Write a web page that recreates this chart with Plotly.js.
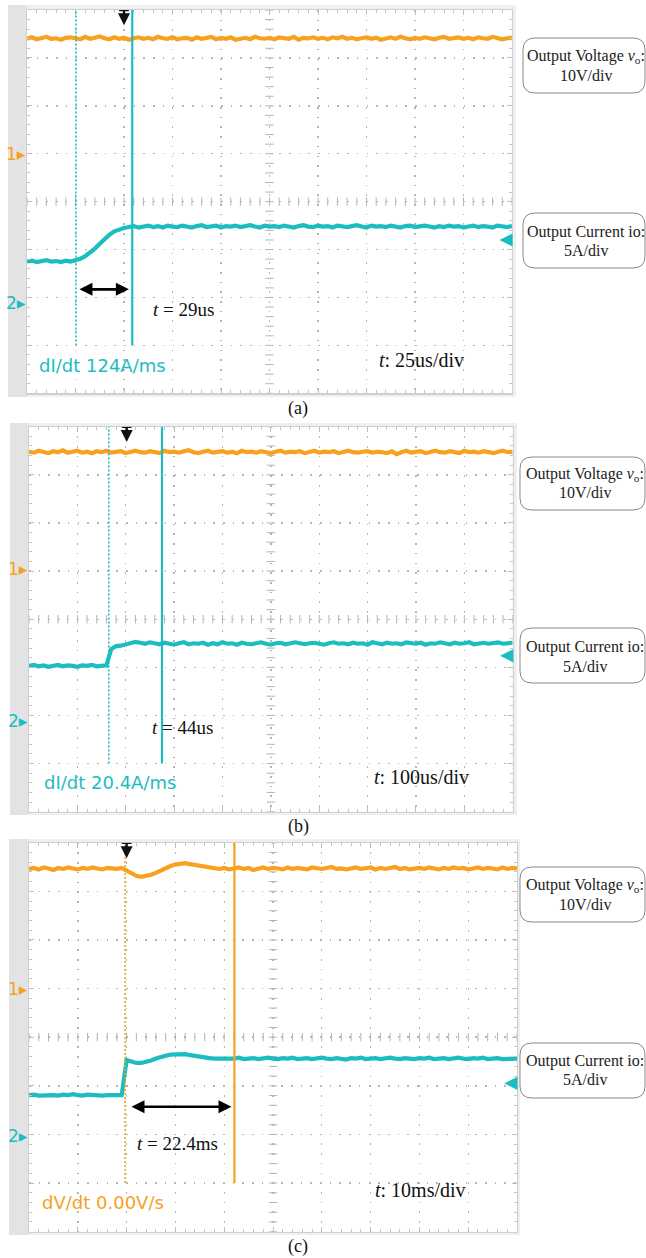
<!DOCTYPE html>
<html><head><meta charset="utf-8">
<script src="https://cdn.plot.ly/plotly-3.0.1.min.js"></script>
<style>html,body{margin:0;padding:0;background:#fff}#chart{width:646px;height:1258px}</style>
</head><body><div id="chart"></div>
<script>
// ===== DATA (oscilloscope divisions: time 0..10 div, amplitude -4..4 div) =====
const sampleStep = 0.1; // div between samples

// (a) 25us/div
const voltA = [3.40,3.43,3.39,3.42,3.44,3.40,3.41,3.38,3.42,3.43,
3.41,3.39,3.44,3.40,3.42,3.45,3.41,3.39,3.43,3.40,
3.42,3.38,3.41,3.43,3.40,3.42,3.39,3.44,3.41,3.40,
3.43,3.39,3.41,3.42,3.38,3.43,3.40,3.41,3.44,3.39,
3.42,3.40,3.43,3.38,3.41,3.42,3.39,3.44,3.41,3.40,
3.42,3.39,3.43,3.41,3.40,3.44,3.38,3.42,3.41,3.43,
3.40,3.42,3.39,3.43,3.41,3.44,3.40,3.42,3.39,3.41,
3.43,3.40,3.42,3.38,3.41,3.43,3.40,3.44,3.41,3.39,
3.42,3.40,3.43,3.41,3.39,3.42,3.44,3.40,3.41,3.43,
3.40,3.42,3.39,3.43,3.41,3.40,3.44,3.42,3.39,3.41,3.42];
const currA = [-1.25,-1.23,-1.26,-1.24,-1.22,-1.25,-1.24,-1.26,-1.23,-1.25,-1.23,
-1.19,-1.14,-1.07,-0.98,-0.88,-0.78,-0.69,-0.62,-0.58,-0.55,-0.53,
-0.51,-0.54,-0.52,-0.50,-0.53,-0.51,-0.54,-0.50,-0.52,-0.53,
-0.50,-0.52,-0.54,-0.51,-0.49,-0.53,-0.52,-0.50,-0.54,-0.51,
-0.52,-0.50,-0.53,-0.51,-0.49,-0.52,-0.54,-0.50,-0.52,-0.51,
-0.53,-0.50,-0.52,-0.54,-0.51,-0.49,-0.52,-0.53,-0.50,-0.52,
-0.51,-0.54,-0.50,-0.52,-0.53,-0.51,-0.49,-0.52,-0.54,-0.50,
-0.52,-0.51,-0.53,-0.50,-0.52,-0.54,-0.51,-0.50,-0.53,-0.52,
-0.50,-0.52,-0.54,-0.51,-0.53,-0.50,-0.52,-0.51,-0.54,-0.52,
-0.50,-0.53,-0.51,-0.52,-0.54,-0.50,-0.52,-0.53,-0.51];

// (b) 100us/div
const voltB = [3.48,3.46,3.50,3.47,3.45,3.49,3.47,3.51,3.46,3.48,
3.50,3.46,3.48,3.45,3.49,3.47,3.50,3.46,3.48,3.49,
3.45,3.48,3.50,3.47,3.46,3.49,3.48,3.45,3.50,3.47,
3.48,3.46,3.49,3.51,3.47,3.45,3.48,3.50,3.46,3.48,
3.49,3.46,3.48,3.45,3.50,3.47,3.48,3.46,3.49,3.47,
3.45,3.48,3.50,3.46,3.48,3.47,3.49,3.45,3.48,3.50,
3.46,3.48,3.47,3.49,3.45,3.48,3.50,3.47,3.46,3.48,
3.49,3.46,3.48,3.47,3.45,3.49,3.43,3.47,3.50,3.46,
3.48,3.49,3.45,3.48,3.50,3.47,3.46,3.49,3.48,3.45,
3.50,3.47,3.48,3.46,3.49,3.47,3.45,3.48,3.50,3.47,3.48];
const currB = [-0.97,-0.95,-0.98,-0.96,-0.99,-0.97,-0.95,-0.98,-0.96,-0.97,
-0.99,-0.96,-0.97,-0.95,-0.98,-0.97,-0.96,
-0.62,-0.56,-0.55,-0.52,-0.49,-0.47,-0.49,-0.51,-0.48,-0.50,
-0.52,-0.49,-0.51,-0.53,-0.50,-0.48,-0.52,-0.50,-0.51,-0.49,
-0.53,-0.50,-0.52,-0.48,-0.51,-0.50,-0.53,-0.49,-0.51,-0.52,
-0.50,-0.48,-0.51,-0.53,-0.50,-0.49,-0.52,-0.51,-0.48,-0.50,
-0.52,-0.50,-0.49,-0.51,-0.53,-0.50,-0.48,-0.51,-0.50,-0.52,
-0.49,-0.51,-0.50,-0.53,-0.48,-0.50,-0.52,-0.49,-0.51,-0.50,
-0.52,-0.48,-0.50,-0.51,-0.49,-0.53,-0.50,-0.51,-0.48,-0.50,
-0.52,-0.49,-0.51,-0.50,-0.48,-0.52,-0.50,-0.49,-0.51,-0.50,
-0.48,-0.51,-0.50,-0.49];

// (c) 10ms/div
const voltC = [3.46,3.48,3.45,3.49,3.47,3.44,3.48,3.46,3.49,3.47,
3.45,3.48,3.46,3.49,3.47,3.45,3.48,3.47,3.46,3.48,
3.42,3.36,3.32,3.30,3.31,3.34,3.38,3.43,3.48,3.52,
3.55,3.57,3.58,3.56,3.54,3.52,3.50,3.48,3.47,3.46,
3.48,3.45,3.47,3.49,3.46,3.48,3.44,3.47,3.49,3.46,
3.48,3.47,3.45,3.49,3.46,3.48,3.47,3.45,3.49,3.47,
3.46,3.48,3.50,3.46,3.47,3.45,3.48,3.49,3.46,3.47,
3.49,3.45,3.48,3.46,3.47,3.50,3.46,3.48,3.45,3.47,
3.48,3.46,3.49,3.47,3.45,3.48,3.46,3.49,3.47,3.48,
3.45,3.47,3.49,3.46,3.48,3.47,3.45,3.49,3.46,3.48,3.47];
const currC = [-1.19,-1.18,-1.20,-1.19,-1.18,-1.19,-1.20,-1.18,-1.19,-1.17,
-1.19,-1.20,-1.18,-1.19,-1.18,-1.20,-1.19,-1.18,-1.19,-1.19,
-0.47,-0.50,-0.53,-0.53,-0.51,-0.48,-0.44,-0.40,-0.38,-0.36,
-0.35,-0.34,-0.35,-0.37,-0.39,-0.41,-0.42,-0.43,-0.44,-0.44,
-0.43,-0.45,-0.44,-0.42,-0.45,-0.44,-0.43,-0.45,-0.44,-0.42,
-0.44,-0.45,-0.43,-0.44,-0.42,-0.45,-0.44,-0.43,-0.45,-0.44,
-0.42,-0.44,-0.45,-0.43,-0.44,-0.46,-0.43,-0.44,-0.42,-0.45,
-0.44,-0.43,-0.45,-0.44,-0.42,-0.44,-0.45,-0.43,-0.44,-0.45,
-0.43,-0.44,-0.42,-0.45,-0.44,-0.43,-0.45,-0.44,-0.42,-0.44,
-0.45,-0.43,-0.44,-0.42,-0.45,-0.44,-0.43,-0.45,-0.44,-0.43,-0.44];

// cursors (div): [dotted, solid]
const cursorsA = [1.01, 2.17];
const cursorsB = [1.65, 2.75];
const cursorsC = [1.97, 4.21];
const triggerPos = [2.0, 2.02, 2.0];

// measured interval arrows [from, to] (div)
const spanA = [1.05, 2.10];
const spanC = [2.07, 4.15];

const measureText = ['<i>t</i> = 29us', '<i>t</i> = 44us', '<i>t</i> = 22.4ms'];
const slopeText = ['dI/dt 124A/ms', 'dI/dt 20.4A/ms', 'dV/dt 0.00V/s'];
const timebaseText = ['<i>t</i>: 25us/div', '<i>t</i>: 100us/div', '<i>t</i>: 10ms/div'];
const captions = ['(a)', '(b)', '(c)'];
const voltLabel = ['Output Voltage <i>v</i><sub>o</sub>:', '10V/div'];
const currLabel = ['Output Current io:', '5A/div'];

// ===== LAYOUT / STYLE =====
const W = 646, H = 1258;
const ORANGE = '#F7A11E', CYAN = '#1CBDBF';
const px = v => v / W, py = v => 1 - v / H;

const panels = [
  {volt: voltA, curr: currA, cur: cursorsA, curColor: CYAN, span: spanA, spanY: -1.83,
   gx: [27, 512], gy: [10, 393.3], outer: [8, 5, 516, 397],
   mT: [3.22, -2.26], sT: [0.21, -3.41], tT: [8.13, -3.31], cap: [298, 408],
   vbox: [523, 38, 645, 93], vt: [56.7, 75.5], ibox: [523, 213, 645, 268], it: [231.7, 250.5],
   rArrow: -0.80, m1: 1.0, m2: -2.12},
  {volt: voltB, curr: currB, cur: cursorsB, curColor: CYAN, span: null,
   gx: [29, 512.7], gy: [426.7, 811.7], outer: [10, 423, 517, 815],
   mT: [3.17, -2.25], sT: [0.26, -3.40], tT: [8.12, -3.28], cap: [298, 826],
   vbox: [520, 457, 645, 510], vt: [474, 492.5], ibox: [520, 628, 645, 683], it: [647.5, 666.5],
   rArrow: -0.76, m1: 1.05, m2: -2.12},
  {volt: voltC, curr: currC, cur: cursorsC, curColor: ORANGE, span: spanC, spanY: -1.43,
   gx: [29, 517], gy: [842.7, 1231.7], outer: [9, 839, 520, 1235],
   mT: [3.04, -2.18], sT: [0.23, -3.39], tT: [8.02, -3.15], cap: [298, 1246],
   vbox: [520, 867, 645, 922], vt: [885.5, 904.5], ibox: [520, 1043, 645, 1098], it: [1060.5, 1079.5],
   rArrow: -0.95, m1: 1.0, m2: -2.04}
];

function rr(x0, y0, x1, y1, r) {
  const X = px, Y = py;
  return `M${X(x0 + r)},${Y(y0)} L${X(x1 - r)},${Y(y0)} Q${X(x1)},${Y(y0)} ${X(x1)},${Y(y0 + r)} ` +
    `L${X(x1)},${Y(y1 - r)} Q${X(x1)},${Y(y1)} ${X(x1 - r)},${Y(y1)} L${X(x0 + r)},${Y(y1)} ` +
    `Q${X(x0)},${Y(y1)} ${X(x0)},${Y(y1 - r)} L${X(x0)},${Y(y0 + r)} Q${X(x0)},${Y(y0)} ${X(x0 + r)},${Y(y0)} Z`;
}

// graticule decoration tick positions (centre-line ticks every 1/5 div)
const hTicks = [], vTicks = [];
for (let k = 0; k <= 50; k++) hTicks.push(k / 5);
for (let k = 0; k <= 40; k++) vTicks.push(-4 + k / 5);

const traces = [], shapes = [], annotations = [];
const layout = {
  width: W, height: H, margin: {l: 0, r: 0, t: 0, b: 0},
  paper_bgcolor: '#ffffff', plot_bgcolor: 'rgba(0,0,0,0)', showlegend: false,
  shapes, annotations
};

const serif = 'Liberation Serif, Times New Roman, serif';
const sans = 'DejaVu Sans, Arial, sans-serif';
const ann = o => annotations.push(Object.assign({showarrow: false, xanchor: 'center', yanchor: 'middle'}, o));

panels.forEach((p, i) => {
  const s = i === 0 ? '' : String(i + 1);
  const xa = 'x' + s, ya = 'y' + s;
  const axCommon = {
    showgrid: true, gridcolor: '#b4b4b4', gridwidth: 1.4, griddash: '1.6px,8.1px',
    zeroline: false, showticklabels: false, ticks: 'inside', ticklen: 5, tickcolor: '#bdbdbd', tickwidth: 1,
    showline: true, linecolor: '#cfcfcf', linewidth: 1.2, mirror: 'allticks', fixedrange: true,
    minor: {ticks: 'inside', ticklen: 3, tickcolor: '#c4c4c4', tickwidth: 1, showgrid: false}
  };
  layout['xaxis' + s] = Object.assign({}, axCommon, {
    domain: [px(p.gx[0]), px(p.gx[1])], range: [0, 10], dtick: 1, tick0: 0, anchor: ya,
    minor: Object.assign({}, axCommon.minor, {dtick: 0.2})
  });
  layout['yaxis' + s] = Object.assign({}, axCommon, {
    domain: [py(p.gy[1]), py(p.gy[0])], range: [-4, 4], dtick: 1, tick0: 0, anchor: xa,
    minor: Object.assign({}, axCommon.minor, {dtick: 0.2})
  });

  // frame
  shapes.push({type: 'rect', xref: 'paper', yref: 'paper', layer: 'below',
    x0: px(p.outer[0]), x1: px(p.outer[2]), y0: py(p.outer[3]), y1: py(p.outer[1]),
    fillcolor: '#efefef', line: {width: 0}});
  shapes.push({type: 'rect', xref: 'paper', yref: 'paper', layer: 'below',
    x0: px(p.outer[0]), x1: px(p.gx[0]), y0: py(p.outer[3]), y1: py(p.outer[1]),
    fillcolor: '#e3e3e3', line: {width: 0}});
  shapes.push({type: 'rect', xref: 'paper', yref: 'paper', layer: 'below',
    x0: px(p.gx[0]), x1: px(p.gx[1]), y0: py(p.gy[1]), y1: py(p.gy[0]),
    fillcolor: '#ffffff', line: {width: 0}});

  // centre-line graticule ticks
  traces.push({type: 'scatter', mode: 'markers', xaxis: xa, yaxis: ya, hoverinfo: 'skip',
    x: hTicks, y: hTicks.map(() => 0),
    marker: {symbol: 'line-ns', size: 6, line: {color: '#b4b4b4', width: 1}}});
  traces.push({type: 'scatter', mode: 'markers', xaxis: xa, yaxis: ya, hoverinfo: 'skip',
    x: vTicks.map(() => 5), y: vTicks,
    marker: {symbol: 'line-ew', size: 6, line: {color: '#b4b4b4', width: 1}}});

  // cursors
  shapes.push({type: 'line', xref: xa, yref: ya, x0: p.cur[0], x1: p.cur[0], y0: -3, y1: 4,
    line: {color: p.curColor, width: 1.6, dash: '2px,2px'}});
  shapes.push({type: 'line', xref: xa, yref: ya, x0: p.cur[1], x1: p.cur[1], y0: -3, y1: 4,
    line: {color: p.curColor, width: 2.2}});

  // signals
  traces.push({type: 'scatter', mode: 'lines', xaxis: xa, yaxis: ya, x0: 0, dx: sampleStep, y: p.volt,
    line: {color: ORANGE, width: 4.2}, hoverinfo: 'skip'});
  traces.push({type: 'scatter', mode: 'lines', xaxis: xa, yaxis: ya, x0: 0, dx: sampleStep, y: p.curr,
    line: {color: CYAN, width: 4.2}, hoverinfo: 'skip'});

  // trigger marker
  annotations.push({xref: xa, yref: ya, x: triggerPos[i], y: 3.68, ax: 0, ay: -16, text: '',
    showarrow: true, arrowhead: 2, arrowsize: 1.0, arrowwidth: 2.4, arrowcolor: '#111', standoff: 0});
  shapes.push({type: 'line', xref: xa, yref: ya, x0: triggerPos[i] - 0.1, x1: triggerPos[i] + 0.1,
    y0: 3.99, y1: 3.99, line: {color: '#111', width: 1.5}});

  // interval arrow
  if (p.span) {
    annotations.push({xref: xa, yref: ya, axref: xa, ayref: ya, x: p.span[1], y: p.spanY,
      ax: p.span[0], ay: p.spanY, text: '', showarrow: true, arrowside: 'end+start',
      arrowhead: 2, arrowsize: 1.0, arrowwidth: 2.6, arrowcolor: '#000', standoff: 0, startstandoff: 0});
  }

  // texts inside scope
  ann({xref: xa, yref: ya, x: p.mT[0], y: p.mT[1], text: measureText[i],
    font: {family: serif, size: 19, color: '#111'}});
  ann({xref: xa, yref: ya, x: p.sT[0], y: p.sT[1], xanchor: 'left', text: slopeText[i],
    font: {family: sans, size: 18, color: i === 2 ? ORANGE : CYAN}});
  ann({xref: xa, yref: ya, x: p.tT[0], y: p.tT[1], text: timebaseText[i],
    font: {family: serif, size: 20, color: '#111'}});

  // channel markers
  ann({xref: 'paper', yref: ya, x: px(p.gx[0] + 1), y: p.m1, xanchor: 'right', text: '1▸',
    font: {family: sans, size: 17, color: ORANGE}});
  ann({xref: 'paper', yref: ya, x: px(p.gx[0] + 1), y: p.m2, xanchor: 'right', text: '2▸',
    font: {family: sans, size: 17, color: CYAN}});
  // current reference arrow on right edge
  annotations.push({xref: xa, yref: ya, axref: xa, ayref: ya, x: 9.74, y: p.rArrow, ax: 10, ay: p.rArrow,
    text: '', showarrow: true, arrowhead: 2, arrowsize: 1.2, arrowwidth: 2.2, arrowcolor: CYAN, standoff: 0});

  // label boxes
  shapes.push({type: 'path', xref: 'paper', yref: 'paper', path: rr(...p.vbox, 12),
    line: {color: '#8a8a8a', width: 1}, fillcolor: 'rgba(255,255,255,0)'});
  shapes.push({type: 'path', xref: 'paper', yref: 'paper', path: rr(...p.ibox, 12),
    line: {color: '#8a8a8a', width: 1}, fillcolor: 'rgba(255,255,255,0)'});
  const cx = px((p.vbox[0] + p.vbox[2]) / 2 + 2);
  [[voltLabel, p.vt], [currLabel, p.it]].forEach(([lab, ys]) => {
    lab.forEach((t, k) => ann({xref: 'paper', yref: 'paper', x: cx, y: py(ys[k]),
      text: t, font: {family: serif, size: 16, color: '#222'}}));
  });

  // caption
  ann({xref: 'paper', yref: 'paper', x: px(p.cap[0]), y: py(p.cap[1]), text: captions[i],
    font: {family: serif, size: 18, color: '#111'}});
});

Plotly.newPlot('chart', traces, layout, {staticPlot: true, displayModeBar: false});
</script>
</body></html>
